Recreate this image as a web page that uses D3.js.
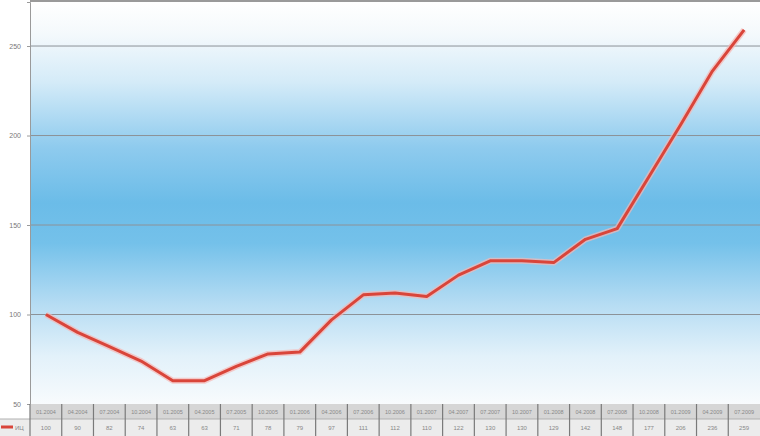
<!DOCTYPE html>
<html lang="ru">
<head>
<meta charset="UTF-8" />
<title>Индекс</title>
<script src="https://d3js.org/d3.v7.min.js"></script>
<style>
  body { margin: 0; background: #fff; font-family: "Liberation Sans", Arial, sans-serif; }
  svg { display: block; }
</style>
</head>
<body>
<div id="chart"></div>
<script>
// data
const periods = ["01.2004", "04.2004", "07.2004", "10.2004", "01.2005", "04.2005",
  "07.2005", "10.2005", "01.2006", "04.2006", "07.2006", "10.2006", "01.2007",
  "04.2007", "07.2007", "10.2007", "01.2008", "04.2008", "07.2008", "10.2008",
  "01.2009", "04.2009", "07.2009"];
const values = [100, 90, 82, 74, 63, 63, 71, 78, 79, 97, 111, 112, 110, 122,
  130, 130, 129, 142, 148, 177, 206, 236, 259];
const yTicks = [50, 100, 150, 200, 250];
const seriesName = "ИЦ";

const W = 760, H = 436;
const mLeft = 30, mRight = 760, mTop = 2, mBottom = 404;
const rowH = 15;

const svg = d3.select("#chart").append("svg")
  .attr("width", W).attr("height", H);

const x = d3.scaleBand().domain(periods).range([mLeft, mRight]);
const y = d3.scaleLinear().domain([50, 274.6]).range([mBottom, mTop]);

// background gradient
const defs = svg.append("defs");
const grad = defs.append("linearGradient").attr("id", "bg")
  .attr("x1", 0).attr("y1", 0).attr("x2", 0).attr("y2", 1);
[[0, "#ffffff"], [0.08, "#f4f9fc"], [0.2, "#d4ebf8"], [0.36, "#8fcbee"],
 [0.5, "#6bbce8"], [0.6, "#74c1ea"], [0.75, "#b5dcf3"], [0.88, "#e2f1fa"], [1, "#f8fbfd"]]
  .forEach(d => grad.append("stop").attr("offset", d[0]).attr("stop-color", d[1]));

svg.append("rect")
  .attr("x", mLeft).attr("y", mTop)
  .attr("width", mRight - mLeft).attr("height", mBottom - mTop)
  .attr("fill", "url(#bg)");

// top border
svg.append("line").attr("x1", mLeft).attr("x2", mRight).attr("y1", 1).attr("y2", 1)
  .attr("stroke", "#9a9a9a").attr("stroke-width", 2);

// grid
svg.append("g").selectAll("line").data(yTicks.slice(1)).join("line")
  .attr("x1", mLeft).attr("x2", mRight)
  .attr("y1", d => y(d)).attr("y2", d => y(d))
  .attr("stroke", "#8c9298").attr("stroke-width", 1);

// y axis
const yAxis = svg.append("g")
  .attr("transform", `translate(${mLeft},0)`)
  .call(d3.axisLeft(y).tickValues(yTicks).tickSize(3).tickPadding(6));
yAxis.select(".domain").attr("stroke", "#9a9a9a");
yAxis.selectAll(".tick line").attr("stroke", "#9a9a9a");
yAxis.selectAll("text").attr("fill", "#777").attr("font-size", 7)
  .attr("font-family", "Liberation Sans, Arial, sans-serif");

// data table
const table = svg.append("g");
table.append("rect").attr("x", mLeft).attr("y", mBottom)
  .attr("width", mRight - mLeft).attr("height", rowH).attr("fill", "#d6d6d6");
table.append("rect").attr("x", 0).attr("y", mBottom + rowH)
  .attr("width", W).attr("height", H - mBottom - rowH).attr("fill", "#ececec");
table.append("line").attr("x1", 0).attr("x2", mRight)
  .attr("y1", mBottom + rowH).attr("y2", mBottom + rowH)
  .attr("stroke", "#b0b0b0");
table.selectAll("line.v").data(periods).join("line").attr("class", "v")
  .attr("x1", d => x(d)).attr("x2", d => x(d))
  .attr("y1", mBottom).attr("y2", H)
  .attr("stroke", "#7a7a7a").attr("stroke-width", 1.2);
table.selectAll("text.p").data(periods).join("text").attr("class", "p")
  .attr("x", d => x(d) + x.bandwidth() / 2).attr("y", mBottom + 10)
  .attr("text-anchor", "middle").attr("font-size", 5.5).attr("fill", "#888")
  .text(d => d);
table.selectAll("text.v").data(values).join("text").attr("class", "v")
  .attr("x", (d, i) => x(periods[i]) + x.bandwidth() / 2).attr("y", mBottom + rowH + 11)
  .attr("text-anchor", "middle").attr("font-size", 6).attr("fill", "#888")
  .text(d => d);

// legend key in table
table.append("line").attr("x1", 1).attr("x2", 13)
  .attr("y1", mBottom + rowH + 8).attr("y2", mBottom + rowH + 8)
  .attr("stroke", "#d9453a").attr("stroke-width", 3);
table.append("text").attr("x", 15).attr("y", mBottom + rowH + 11)
  .attr("font-size", 6).attr("fill", "#888").text(seriesName);

// series line
const line = d3.line()
  .x((d, i) => x(periods[i]) + x.bandwidth() / 2)
  .y(d => y(d));

svg.append("path").datum(values)
  .attr("fill", "none").attr("stroke", "#f6b6b4").attr("stroke-width", 6)
  .attr("stroke-linejoin", "round").attr("opacity", 0.7)
  .attr("d", line);
svg.append("path").datum(values)
  .attr("fill", "none").attr("stroke", "#d9453a").attr("stroke-width", 3)
  .attr("stroke-linejoin", "round")
  .attr("d", line);
</script>
</body>
</html>
